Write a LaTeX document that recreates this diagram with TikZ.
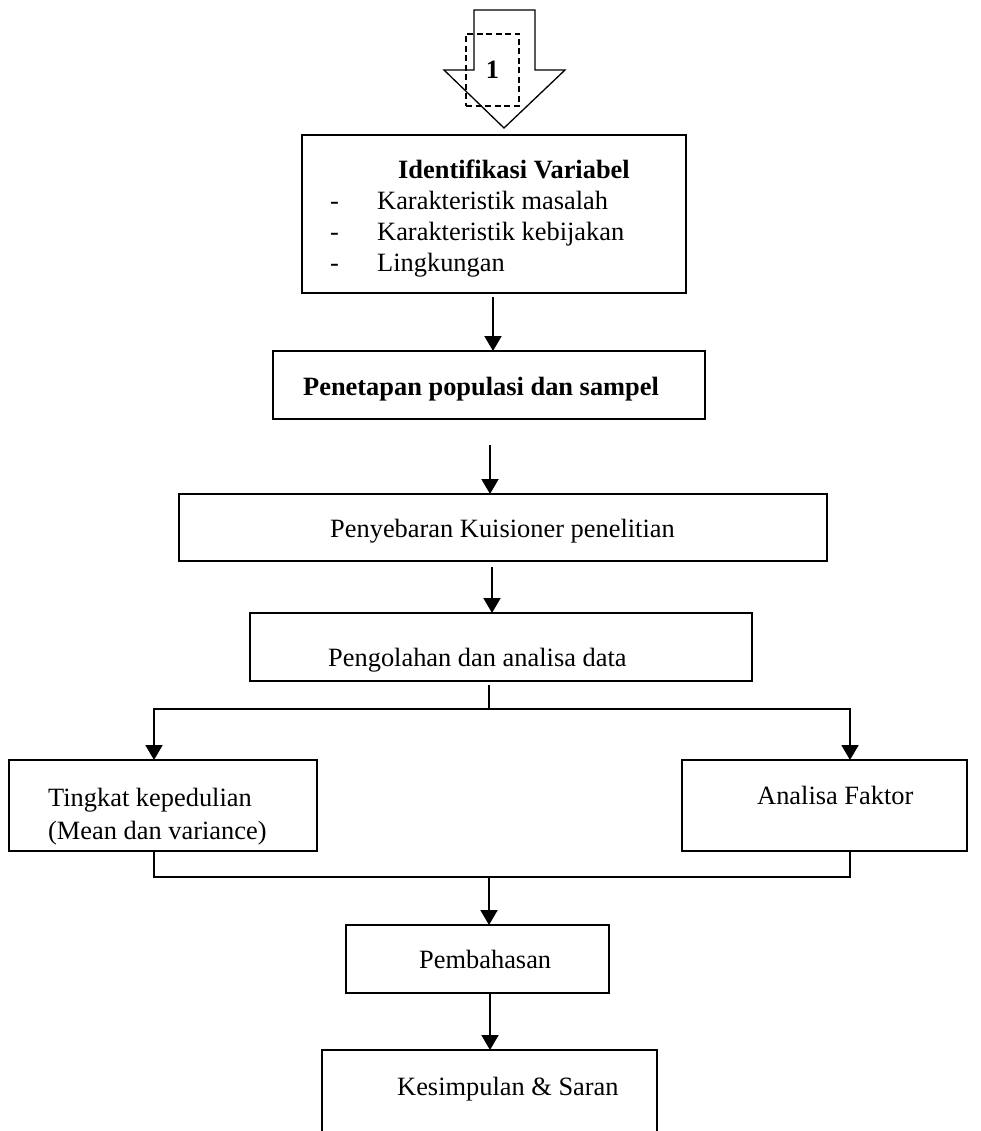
\documentclass[tikz,border=0pt]{standalone}
\usepackage{fontspec}
\setmainfont{Liberation Serif}
\usetikzlibrary{arrows.meta}
\begin{document}
\begin{tikzpicture}[x=1pt,y=-1pt,
  box/.style={draw, line width=2pt, inner sep=0pt, outer sep=0pt, anchor=north west},
  lbl/.style={anchor=base west, inner sep=0pt, font=\fontsize{26.4}{30}\selectfont},
  arr/.style={line width=2pt, -{Triangle[width=17pt,length=15pt]}},
  link/.style={line width=2pt}]
\useasboundingbox (0,0) rectangle (980,1131);
\clip (0,0) rectangle (980,1131);

% incoming connector (off-page marker 1)
\draw[line width=1.3pt, line join=miter]
  (474,10) -- (535,10) -- (535,70) -- (565,70) -- (504,128) -- (444,70) -- (474,70) -- cycle;
\node[draw, dashed, dash pattern=on 6pt off 3.5pt, line width=1.3pt,
      minimum width=53pt, minimum height=72pt, inner sep=0pt, outer sep=0pt,
      font=\fontsize{26.4}{30}\selectfont\bfseries] (tag) at (492.5,70) {1};

% process boxes
\node[box, minimum width=384pt, minimum height=158pt] (b1) at (302,135) {};
\node[box, minimum width=432pt, minimum height=68pt]  (b2) at (273,351) {};
\node[box, minimum width=648pt, minimum height=67pt]  (b3) at (179,494) {};
\node[box, minimum width=502pt, minimum height=68pt]  (b4) at (250,613) {};
\node[box, minimum width=308pt, minimum height=91pt]  (b5) at (9,760) {};
\node[box, minimum width=285pt, minimum height=91pt]  (b6) at (682,760) {};
\node[box, minimum width=263pt, minimum height=68pt]  (b7) at (346,925) {};
\node[box, minimum width=335pt, minimum height=110pt] (b8) at (322,1050) {};

% box texts
\node[lbl, font=\fontsize{26.4}{30}\selectfont\bfseries] (t1) at (398,179) {Identifikasi Variabel};
\node[lbl] (d1) at (330,210) {-};
\node[lbl] (d2) at (330,241) {-};
\node[lbl] (d3) at (330,272) {-};
\node[lbl] (i1) at (377,210) {Karakteristik masalah};
\node[lbl] (i2) at (377,241) {Karakteristik kebijakan};
\node[lbl] (i3) at (377,272) {Lingkungan};
\node[lbl, font=\fontsize{26.4}{30}\selectfont\bfseries] (t2) at (303,395) {Penetapan populasi dan sampel};
\node[lbl] (t3) at (330,537) {Penyebaran Kuisioner penelitian};
\node[lbl] (t4) at (328,666) {Pengolahan dan analisa data};
\node[lbl] (t5a) at (48,806) {Tingkat kepedulian};
\node[lbl] (t5b) at (48,839) {(Mean dan variance)};
\node[lbl] (t6) at (757,804) {Analisa Faktor};
\node[lbl] (t7) at (419,968) {Pembahasan};
\node[lbl] (t8) at (397,1095) {Kesimpulan \& Saran};

% connectors
\draw[arr] ([xshift=-1pt,yshift=-4pt]b1.south) -- ([xshift=4pt]b2.north);
\draw[arr] ([xshift=1pt,yshift=-26pt]b2.south) -- ([xshift=-13pt]b3.north);
\draw[arr] ([xshift=-11pt,yshift=-6pt]b3.south) -- ([xshift=-9pt]b4.north);

\coordinate (split) at (489,709);
\draw[link] ([xshift=-12pt,yshift=-4pt]b4.south) -- (split);
\draw[arr] (split) -| ([xshift=-9pt]b5.north);
\draw[arr] (split) -| ([xshift=25.5pt]b6.north);

\coordinate (join) at (489,877);
\draw[link] ([xshift=-9pt]b5.south) |- (join) -| ([xshift=25.5pt]b6.south);
\draw[arr] (join) -- (join |- b7.north);
\draw[arr] ([xshift=12.5pt]b7.south) -- ([xshift=0.5pt]b8.north);
\end{tikzpicture}
\end{document}
